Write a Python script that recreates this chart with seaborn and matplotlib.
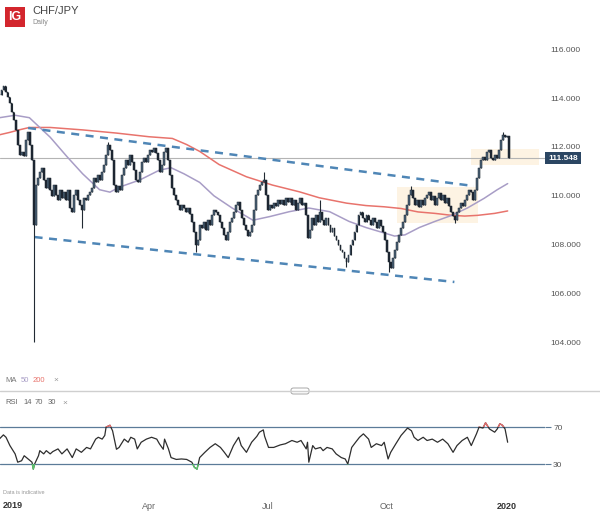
import numpy as np
import pandas as pd
import matplotlib
matplotlib.use('Agg')
import matplotlib.pyplot as plt
from matplotlib.patches import Rectangle, FancyBboxPatch
from matplotlib.lines import Line2D
import seaborn as sns

sns.set_theme(style='white')
plt.rcParams['font.family'] = ['Liberation Sans', 'DejaVu Sans']

# Daily closes, CHF/JPY, early Dec 2018 -> 3 Jan 2020
closes = [
    114.13, 114.34, 114.5, 114.25, 114.05, 113.8, 113.43, 113.1, 112.7, 112.08,
    111.67, 111.8, 111.63, 112.29, 112.6, 112.08, 111.47, 108.8,
    110.44, 110.73, 110.98, 111.14, 110.65, 110.32, 110.73, 110.24, 110.0, 110.44,
    110.03, 109.83, 110.24, 109.91, 110.16, 109.83, 110.24, 109.5, 109.34, 110.03,
    110.24, 109.83, 109.62, 109.42, 109.91, 109.83, 110.03, 110.16, 110.32, 110.73,
    110.57, 110.85, 110.65, 110.98, 111.26, 111.67, 112.08, 111.88, 111.47, 110.44,
    110.16, 110.4, 110.24, 110.85, 111.14, 111.47, 111.26, 111.67, 111.39, 111.06,
    110.65, 110.57, 110.98, 111.39, 111.55, 111.39, 111.67, 111.88, 111.8, 111.96,
    111.75, 111.47, 110.98, 111.26, 111.8, 111.96, 111.47, 110.85, 110.32, 110.03,
    109.83, 109.62, 109.42, 109.62, 109.5, 109.34, 109.5, 109.25, 108.93, 108.52,
    107.98, 108.19, 108.8, 108.68, 108.93, 108.6, 109.0, 108.8, 109.21, 109.42,
    109.34, 109.21, 108.93, 108.68, 108.39, 108.19, 108.52, 108.93, 109.09, 109.34,
    109.62, 109.75, 109.42, 109.09, 108.8, 108.6, 108.35, 108.52, 108.8, 109.42,
    110.03, 110.24, 110.44, 110.57, 110.65, 110.03, 109.42, 109.62, 109.5, 109.7,
    109.58, 109.83, 109.67, 109.83, 109.62, 109.91, 109.75, 109.91, 109.62, 109.83,
    109.42, 109.7, 109.91, 109.62, 109.7, 109.21, 108.27, 108.6, 109.09, 108.8,
    109.21, 108.93, 109.34, 109.0, 108.8, 109.09, 108.8, 108.52, 108.68, 108.35,
    108.19, 107.98, 107.78, 107.7, 107.45, 107.29, 107.57, 107.98, 108.19, 108.52,
    108.8, 109.21, 109.34, 109.09, 108.93, 109.21, 109.0, 108.8, 109.09, 108.93,
    108.68, 109.0, 108.76, 108.52, 108.19, 107.7, 107.29, 107.04, 107.45, 107.78,
    108.1, 108.39, 108.68, 108.93, 109.21, 109.62, 110.03, 110.24, 109.91, 109.62,
    109.83, 109.54, 109.83, 109.62, 109.91, 110.03, 110.16, 109.83, 110.0, 109.62,
    109.91, 110.12, 109.83, 110.03, 109.7, 109.91, 109.58, 109.34, 109.17, 109.0,
    109.34, 109.5, 109.7, 109.58, 109.83, 110.03, 110.24, 110.16, 109.83, 110.24,
    110.73, 111.14, 111.47, 111.59, 111.47, 111.8, 111.88, 111.55, 111.47, 111.67,
    111.55, 111.88, 112.29, 112.49, 112.41, 112.45, 111.548,
]
first_date = '2018-12-07'
last_date = '2020-01-03'

# long wicks visible on the chart
spike_dates = ['2019-01-02', '2019-02-09', '2019-03-01', '2019-05-07', '2019-06-28',
               '2019-08-11', '2019-08-31', '2019-10-03', '2019-10-19', '2019-11-22',
               '2019-12-29']
spike_prices = [104.0, 108.7, 112.2, 107.7, 110.98, 109.83, 107.1, 106.88, 110.4,
                108.9, 112.6]

ma50_dates = ['2018-12-07', '2018-12-19', '2018-12-30', '2019-01-15', '2019-01-28',
              '2019-02-09', '2019-02-22', '2019-03-02', '2019-03-09', '2019-03-25',
              '2019-04-09', '2019-04-18', '2019-04-28', '2019-05-10', '2019-05-21',
              '2019-06-04', '2019-06-20', '2019-07-03', '2019-07-18', '2019-08-02',
              '2019-08-18', '2019-09-02', '2019-09-15', '2019-10-07', '2019-10-15',
              '2019-10-26', '2019-11-07', '2019-11-20', '2019-12-02', '2019-12-15',
              '2019-12-25', '2020-01-02']
ma50_values = [113.2, 113.3, 113.2, 112.4, 111.6, 110.9, 110.25, 110.15, 110.35, 110.65,
               111.05, 111.15, 110.9, 110.55, 110.0, 109.5, 109.0, 109.15, 109.35, 109.5,
               109.35, 108.95, 108.7, 108.35, 108.4, 108.7, 108.95, 109.2, 109.5, 109.9,
               110.25, 110.5]

ma200_dates = ['2018-12-07', '2018-12-15', '2018-12-22', '2018-12-30', '2019-01-15',
               '2019-02-09', '2019-03-07', '2019-04-01', '2019-04-19', '2019-04-30',
               '2019-05-10', '2019-05-25', '2019-06-15', '2019-07-05', '2019-07-26',
               '2019-08-10', '2019-08-31', '2019-09-15', '2019-09-29', '2019-10-12',
               '2019-10-25', '2019-11-07', '2019-11-20', '2019-11-30', '2019-12-10',
               '2019-12-23', '2020-01-02']
ma200_values = [112.5, 112.6, 112.7, 112.8, 112.8, 112.7, 112.57, 112.42, 112.35, 112.1,
                111.82, 111.28, 110.78, 110.44, 110.16, 109.92, 109.7, 109.6, 109.55,
                109.48, 109.34, 109.28, 109.2, 109.17, 109.2, 109.28, 109.38]

upper_trend_dates = ['2018-12-29', '2019-12-07']
upper_trend_prices = [112.78, 110.4]
lower_trend_dates = ['2019-01-03', '2019-11-22']
lower_trend_prices = [108.31, 106.47]

zone_starts = ['2019-10-09', '2019-12-05']
zone_ends = ['2019-12-10', '2020-01-26']
zone_lows = [108.9, 111.27]
zone_highs = [110.38, 111.93]

last_price = 111.548
price_ticks = [104, 106, 108, 110, 112, 114, 116]

rsi_dates = [
    '2018-12-07', '2018-12-10', '2018-12-12', '2018-12-15', '2018-12-19', '2018-12-21',
    '2018-12-24', '2018-12-26', '2018-12-29', '2019-01-01', '2019-01-02', '2019-01-03',
    '2019-01-06', '2019-01-07', '2019-01-10', '2019-01-12', '2019-01-15', '2019-01-17',
    '2019-01-21', '2019-01-24', '2019-01-28', '2019-02-01', '2019-02-04', '2019-02-08',
    '2019-02-12', '2019-02-15', '2019-02-19', '2019-02-21', '2019-02-24', '2019-02-26',
    '2019-02-27', '2019-03-02', '2019-03-04', '2019-03-07', '2019-03-09', '2019-03-13',
    '2019-03-16', '2019-03-18', '2019-03-21', '2019-03-23', '2019-03-26', '2019-03-30',
    '2019-04-03', '2019-04-07', '2019-04-09', '2019-04-12', '2019-04-13', '2019-04-16',
    '2019-04-18', '2019-04-22', '2019-04-26', '2019-04-30', '2019-05-04', '2019-05-06',
    '2019-05-08', '2019-05-10', '2019-05-14', '2019-05-18', '2019-05-22', '2019-05-26',
    '2019-05-29', '2019-06-01', '2019-06-05', '2019-06-09', '2019-06-11', '2019-06-15',
    '2019-06-19', '2019-06-23', '2019-06-25', '2019-06-28', '2019-06-29', '2019-07-02',
    '2019-07-06', '2019-07-11', '2019-07-15', '2019-07-20', '2019-07-24', '2019-07-27',
    '2019-07-31', '2019-08-01', '2019-08-02', '2019-08-05', '2019-08-07', '2019-08-11',
    '2019-08-13', '2019-08-16', '2019-08-20', '2019-08-23', '2019-08-27', '2019-08-30',
    '2019-09-01', '2019-09-04', '2019-09-07', '2019-09-10', '2019-09-13', '2019-09-17',
    '2019-09-19', '2019-09-23', '2019-09-27', '2019-09-29', '2019-10-02', '2019-10-04',
    '2019-10-08', '2019-10-12', '2019-10-17', '2019-10-20', '2019-10-22', '2019-10-25',
    '2019-10-29', '2019-11-01', '2019-11-05', '2019-11-09', '2019-11-13', '2019-11-17',
    '2019-11-21', '2019-11-24', '2019-11-28', '2019-12-02', '2019-12-05', '2019-12-09',
    '2019-12-11', '2019-12-14', '2019-12-16', '2019-12-19', '2019-12-23', '2019-12-25',
    '2019-12-27', '2019-12-29', '2019-12-31', '2020-01-02',
]
rsi_values = [
    57.3, 61.6, 59, 50, 41, 32, 33.6, 39, 35.5, 32, 24.5, 30,
    39, 44.5, 41, 44.5, 41, 43.5, 46.4, 41, 46.4, 37, 46.4, 42.7,
    48, 46.4, 57, 59, 57, 61, 70, 72, 66, 46, 48, 57,
    53.6, 59, 57, 46.4, 53.6, 57, 59, 57, 52, 46, 57, 46.4,
    37, 35, 35.5, 35, 32, 26.4, 24.5, 37, 42.7, 48, 52, 48,
    42.7, 37, 50, 59, 50, 42.7, 53.6, 60, 64.5, 67, 60, 48,
    48, 50.7, 52, 55.5, 53.6, 55.5, 46.4, 53.6, 32, 50, 46.4, 48,
    44.5, 48, 46.4, 41, 37, 35.5, 30, 48, 53.6, 59, 62.7, 57,
    48, 52, 50, 53.6, 35.5, 42.7, 52, 61, 69, 66, 59, 55.5,
    59, 55.5, 57, 53.6, 57, 52, 42.7, 50, 55.5, 59, 50, 62.7,
    70, 69, 74.7, 68, 64.5, 68, 73.6, 72, 68, 53.6,
]
rsi_levels = [30, 70]

month_ticks = ['2019-04-01', '2019-07-01', '2019-10-01', '2020-01-01']
month_labels = ['Apr', 'Jul', 'Oct', '2020']

# ---- candle table
dates = pd.date_range(first_date, last_date, periods=len(closes))
close_arr = np.array(closes)
open_arr = np.concatenate([[closes[0]], close_arr[:-1]])
high_arr = np.maximum(open_arr, close_arr)
low_arr = np.minimum(open_arr, close_arr)
for d, p in zip(pd.to_datetime(spike_dates), spike_prices):
    i = int(np.argmin(np.abs(dates - d)))
    if p > high_arr[i]:
        high_arr[i] = p
    else:
        low_arr[i] = p
up = close_arr >= open_arr

xlim = pd.to_datetime(['2018-12-07 09:00', '2020-01-30 14:00'])

fig = plt.figure(figsize=(6, 5.12), dpi=100)
ax = fig.add_axes([0, 0.281, 0.908, 0.645])
ax2 = fig.add_axes([0, 0.043, 0.908, 0.152])

# zones
for s, e, lo, hi in zip(zone_starts, zone_ends, zone_lows, zone_highs):
    ax.fill_between(pd.to_datetime([s, e]), lo, hi, color='#fce6c2', alpha=0.45, lw=0, zorder=1)

ax.axhline(last_price, color='#b4b4b4', lw=0.8, zorder=1)

sns.lineplot(x=pd.to_datetime(ma200_dates), y=ma200_values, ax=ax, color='#e8736c', lw=1.1, zorder=2)
sns.lineplot(x=pd.to_datetime(ma50_dates), y=ma50_values, ax=ax, color='#a89dc6', lw=1.1, zorder=2)

for td, tp in [(upper_trend_dates, upper_trend_prices), (lower_trend_dates, lower_trend_prices)]:
    sns.lineplot(x=pd.to_datetime(td), y=tp, ax=ax, color='#4f86b6', lw=1.8,
                 linestyle=(0, (3.2, 2.6)), zorder=3)

# candles
ax.vlines(dates, low_arr, high_arr, color='#222a33', lw=0.8, zorder=4)
body = np.maximum(np.abs(close_arr - open_arr), 0.05)
ax.bar(dates, body, bottom=np.minimum(open_arr, close_arr), width=1.45,
       color=np.where(up, '#4b6277', '#1d2631'), edgecolor='#1d2631', lw=0.35, zorder=5)

ax.set_xlim(xlim)
ax.set_ylim(102.94, 116.47)
ax.yaxis.tick_right()
ax.set_yticks(price_ticks)
ax.set_yticklabels([f'{v:.3f}' for v in price_ticks])
ax.tick_params(axis='y', length=0, pad=4, labelsize=6, labelcolor='#555555')
ax.set_xticks([])
ax.set_xlabel('')
ax.set_ylabel('')
for sp in ax.spines.values():
    sp.set_visible(False)

ax.text(1.006, last_price, f'{last_price:.3f}', transform=ax.get_yaxis_transform(),
        ha='left', va='center', color='white', fontsize=6, fontweight='bold',
        bbox=dict(boxstyle='square,pad=0.35', fc='#2b4663', ec='none'))

# ---- RSI panel
rsi_x = pd.to_datetime(rsi_dates)
for lvl in rsi_levels:
    ax2.axhline(lvl, color='#5b7b98', lw=0.9, zorder=1)
sns.lineplot(x=rsi_x, y=rsi_values, ax=ax2, color='#2e2e2e', lw=0.9, zorder=2)
x0, x1 = [matplotlib.dates.date2num(v) for v in xlim]
for color, y0, h in [('#e46a6a', 70, 40), ('#5cc46b', -10, 40)]:
    sns.lineplot(x=rsi_x, y=rsi_values, ax=ax2, color=color, lw=1.0, zorder=3)
    clip = Rectangle((x0, y0), x1 - x0, h, transform=ax2.transData)
    ax2.lines[-1].set_clip_path(clip)

ax2.set_xlim(xlim)
ax2.set_ylim(1.9, 86.2)
ax2.yaxis.tick_right()
ax2.set_yticks(rsi_levels)
ax2.set_yticklabels([str(v) for v in rsi_levels])
ax2.tick_params(axis='y', length=4, width=0.8, color='#5b7b98', pad=2, labelsize=6,
                labelcolor='#555555', right=True)
ax2.set_xticks(pd.to_datetime(month_ticks))
ax2.set_xticklabels(month_labels)
ax2.tick_params(axis='x', length=0, pad=9, labelsize=6.5, labelcolor='#666666')
ax2.get_xticklabels()[-1].set_fontweight('bold')
ax2.get_xticklabels()[-1].set_color('#333333')
ax2.set_xlabel('')
ax2.set_ylabel('')
for sp in ax2.spines.values():
    sp.set_visible(False)


def fx(px):
    return px / 600


def fy(py):
    return 1 - py / 512


# header
fig.add_artist(Rectangle((fx(5), fy(27)), fx(20), 20 / 512, transform=fig.transFigure,
                         fc='#d3262d', ec='none'))
fig.text(fx(15), fy(17), 'IG', color='white', fontsize=9, fontweight='bold',
         ha='center', va='center')
fig.text(fx(32), fy(11), 'CHF/JPY', color='#444444', fontsize=8, va='center')
fig.text(fx(32), fy(23), 'Daily', color='#888888', fontsize=5, va='center')

# indicator legends
fig.text(fx(5), fy(380), 'MA', color='#777777', fontsize=5.5, va='center')
fig.text(fx(21), fy(380), '50', color='#a89dc6', fontsize=5.5, va='center')
fig.text(fx(33), fy(380), '200', color='#e8736c', fontsize=5.5, va='center')
fig.text(fx(53), fy(380), '\u00d7', color='#999999', fontsize=6, va='center')
fig.add_artist(Line2D([0, 1], [fy(391), fy(391)], transform=fig.transFigure,
                      color='#cfcfcf', lw=1))
fig.add_artist(FancyBboxPatch((fx(291), fy(394)), fx(18), 6 / 512, transform=fig.transFigure,
                              boxstyle='round,pad=0,rounding_size=0.004',
                              fc='white', ec='#999999', lw=0.6))
fig.text(fx(5), fy(403), 'RSI', color='#666666', fontsize=5.5, va='center')
fig.text(fx(23), fy(403), '14', color='#666666', fontsize=5.5, va='center')
fig.text(fx(35), fy(403), '70', color='#666666', fontsize=5.5, va='center')
fig.text(fx(48), fy(403), '30', color='#666666', fontsize=5.5, va='center')
fig.text(fx(62), fy(403), '\u00d7', color='#999999', fontsize=6, va='center')

fig.text(fx(3), fy(493), 'Data is indicative', color='#999999', fontsize=4, va='center')
fig.text(fx(3), fy(505), '2019', color='#333333', fontsize=6.5, fontweight='bold', va='center')

fig.savefig('out.png', dpi=100)
